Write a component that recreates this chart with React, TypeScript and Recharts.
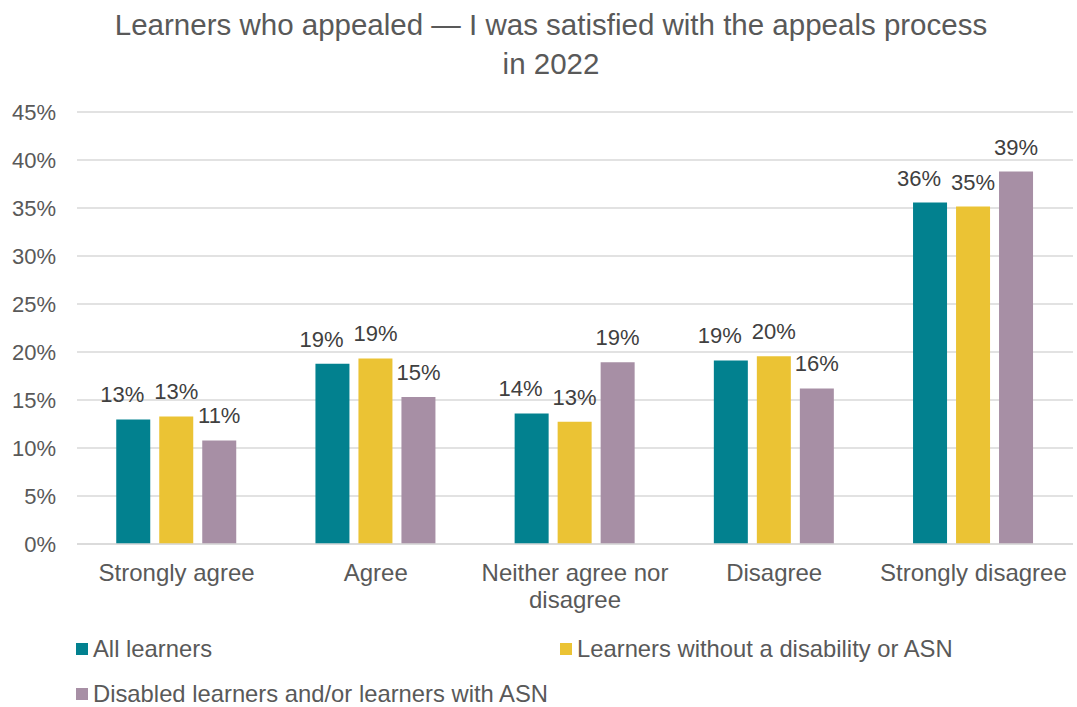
import React from "react";
import { BarChart, Bar, XAxis, YAxis, CartesianGrid, Legend, LabelList } from "recharts";

const categories = ["Strongly agree", "Agree", "Neither agree nor disagree", "Disagree", "Strongly disagree"];
const allLearners = [12.98, 18.77, 13.6, 19.12, 35.57];
const withoutDisability = [13.29, 19.33, 12.73, 19.57, 35.15];
const disabledASN = [10.79, 15.3, 18.94, 16.2, 38.8];
const yTicks = [0, 5, 10, 15, 20, 25, 30, 35, 40, 45];

const seriesNames = ["All learners", "Learners without a disability or ASN", "Disabled learners and/or learners with ASN"];
const seriesColors = ["#02818F", "#EBC334", "#A78FA5"];

const data = categories.map((name, i) => ({
  name,
  all: allLearners[i],
  without: withoutDisability[i],
  disabled: disabledASN[i],
}));

const FONT = "'Liberation Sans', Arial, sans-serif";
const X_FONT_SIZE = 24;

let measureCtx: CanvasRenderingContext2D | null = null;
const measure = (s: string) => {
  if (!measureCtx) {
    const c = document.createElement("canvas");
    measureCtx = c.getContext("2d");
  }
  if (!measureCtx) return s.length * X_FONT_SIZE * 0.5;
  measureCtx.font = `${X_FONT_SIZE}px 'Liberation Sans', Arial, sans-serif`;
  return measureCtx.measureText(s).width;
};

const wrapWords = (s: string, maxWidth: number) => {
  const words = s.split(" ");
  const lines: string[] = [];
  let cur = "";
  for (const w of words) {
    const test = cur ? cur + " " + w : w;
    if (cur && measure(test) > maxWidth) {
      lines.push(cur);
      cur = w;
    } else {
      cur = test;
    }
  }
  if (cur) lines.push(cur);
  return lines;
};

const XTick = (props: any) => {
  const { x, y, payload } = props;
  const lines = wrapWords(String(payload.value), 196);
  return (
    <text
      x={x}
      y={y + 37}
      textAnchor="middle"
      fontSize={X_FONT_SIZE}
      fill="#595959"
      fontFamily={FONT}
    >
      {lines.map((l, i) => (
        <tspan key={i} x={x} dy={i === 0 ? 0 : 27}>
          {l}
        </tspan>
      ))}
    </text>
  );
};

const makeLabel = (shift: number) => (props: any) => {
  const { x, y, width, value } = props;
  return (
    <text
      x={Number(x) + Number(width) / 2 + shift}
      y={Number(y) - 17}
      textAnchor="middle"
      fontSize={22}
      fill="#404040"
      fontFamily={FONT}
    >
      {Math.round(Number(value)) + "%"}
    </text>
  );
};

const LegendContent = () => {
  const positions = [
    { left: 76, top: 6 },
    { left: 560, top: 6 },
    { left: 76, top: 51 },
  ];
  return (
    <div style={{ position: "relative", width: 1073, height: 77, fontFamily: FONT }}>
      {seriesNames.map((n, i) => (
        <div
          key={n}
          style={{
            position: "absolute",
            left: positions[i].left,
            top: positions[i].top,
            display: "flex",
            alignItems: "center",
            fontSize: 23.8,
            color: "#595959",
            lineHeight: "26px",
            whiteSpace: "nowrap",
          }}
        >
          <span style={{ display: "inline-block", width: 12, height: 12, background: seriesColors[i], marginRight: 5 }} />
          {n}
        </div>
      ))}
    </div>
  );
};

export default function App() {
  return (
    <div style={{ position: "absolute", left: 0, top: 0, width: 1077, height: 707, background: "#fff", fontFamily: FONT }}>
      <div
        style={{
          position: "absolute",
          top: 5,
          left: 0,
          width: 1102,
          textAlign: "center",
          fontSize: 29.5,
          lineHeight: "39px",
          color: "#595959",
          zIndex: 2,
        }}
      >
        Learners who appealed — I was satisfied with the appeals process
        <br />
        in 2022
      </div>
      <BarChart
        width={1077}
        height={707}
        data={data}
        margin={{ top: 112, right: 4, left: 0, bottom: 0 }}
        barCategoryGap="19.7%"
        barGap={9}
      >
        <CartesianGrid vertical={false} stroke="#D9D9D9" strokeWidth={1.5} />
        <XAxis
          dataKey="name"
          height={86}
          axisLine={{ stroke: "#D9D9D9", strokeWidth: 1.5 }}
          tickLine={false}
          tickSize={0}
          tickMargin={0}
          interval={0}
          tick={<XTick />}
        />
        <YAxis
          width={77}
          domain={[0, 45]}
          ticks={yTicks}
          tickFormatter={(v: number) => v + "%"}
          axisLine={false}
          tickLine={false}
          tickSize={0}
          tickMargin={21}
          tick={{ fontSize: 22, fill: "#595959", fontFamily: FONT }}
        />
        <Legend verticalAlign="bottom" align="left" content={<LegendContent />} />
        <Bar dataKey="all" name={seriesNames[0]} fill={seriesColors[0]} isAnimationActive={false}>
          <LabelList dataKey="all" content={makeLabel(-11)} />
        </Bar>
        <Bar dataKey="without" name={seriesNames[1]} fill={seriesColors[1]} isAnimationActive={false}>
          <LabelList dataKey="without" content={makeLabel(0)} />
        </Bar>
        <Bar dataKey="disabled" name={seriesNames[2]} fill={seriesColors[2]} isAnimationActive={false}>
          <LabelList dataKey="disabled" content={makeLabel(0)} />
        </Bar>
      </BarChart>
    </div>
  );
}
